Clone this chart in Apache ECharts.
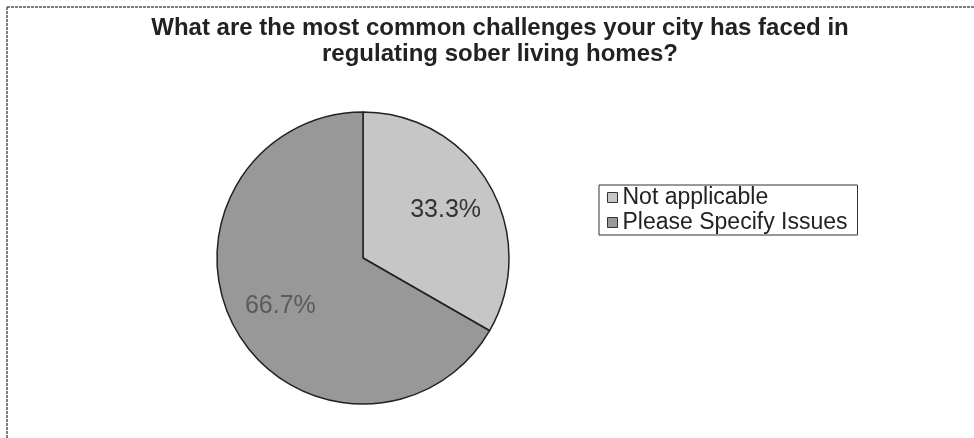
<!DOCTYPE html>
<html>
<head>
<meta charset="utf-8">
<script src="https://cdn.jsdelivr.net/npm/echarts@6/dist/echarts.min.js"></script>
<style>html,body{margin:0;padding:0;background:#fff}#c{width:974px;height:438px}</style>
</head>
<body>
<div id="c"></div>
<script>
const titleText = 'What are the most common challenges your city has faced in\nregulating sober living homes?';
const categories = ['Not applicable', 'Please Specify Issues'];
const values = [33.3, 66.7];
const colors = ['#c6c6c6', '#989898'];
const labelColors = ['#333333', '#5a5a5a'];

const chart = echarts.init(document.getElementById('c'), null, {renderer: 'canvas'});
const data = categories.map((n, i) => ({name: n, value: values[i], itemStyle: {color: colors[i]}}));
chart.setOption({
  animation: false,
  backgroundColor: '#fff',
  title: {
    text: titleText, left: 495, top: 10, textAlign: 'center',
    textStyle: {fontFamily: '"Liberation Sans", Arial', fontWeight: 'bold', fontSize: 24, lineHeight: 26, color: '#222'}
  },
  legend: {
    orient: 'vertical', left: 599, top: 185, data: categories,
    itemWidth: 10, itemHeight: 10, itemGap: 2,
    icon: 'rect',
    borderColor: '#333', borderWidth: 1, padding: [1, 10, 1, 8],
    textStyle: {fontFamily: '"Liberation Sans", Arial', fontSize: 23, lineHeight: 23, color: '#222'},
    itemStyle: {borderColor: '#333', borderWidth: 1}
  },
  graphic: [
    {type: 'line', shape: {x1: 7, y1: 7, x2: 974, y2: 7}, style: {stroke: '#555', lineWidth: 1.5, lineDash: [3, 1]}},
    {type: 'line', shape: {x1: 7, y1: 7, x2: 7, y2: 438}, style: {stroke: '#555', lineWidth: 1.5, lineDash: [3, 1]}}
  ],
  series: [
    {
      type: 'pie', center: [363, 258], radius: 146, startAngle: 90, clockwise: true,
      data: data, label: {show: false}, labelLine: {show: false},
      itemStyle: {borderColor: '#222', borderWidth: 1.5}, silent: true
    },
    {
      type: 'pie', center: [363, 258], radius: [39, 146], startAngle: 90, clockwise: true,
      data: categories.map((n, i) => ({name: n, value: values[i], itemStyle: {color: 'rgba(0,0,0,0)'},
        label: {color: labelColors[i]}})),
      legendHoverLink: false, silent: true,
      label: {show: true, position: 'inside', formatter: p => p.value.toFixed(1) + '%',
        fontFamily: '"Liberation Sans", Arial', fontSize: 25},
      labelLine: {show: false}
    }
  ]
});
</script>
</body>
</html>
